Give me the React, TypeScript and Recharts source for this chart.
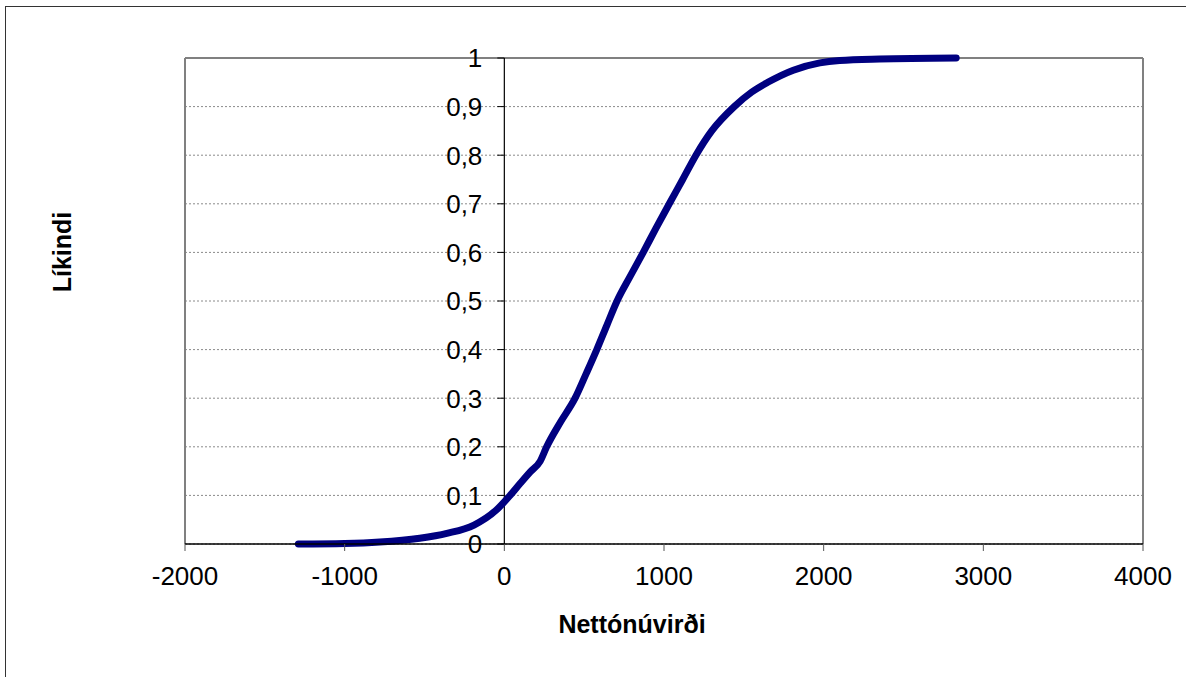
import { LineChart, Line, XAxis, YAxis, CartesianGrid, ReferenceLine } from 'recharts';

const netValues = [-1290, -1000, -780, -530, -360, -190, -50, 36, 100, 161, 224, 265, 350, 443, 512, 579, 642, 706, 787, 870, 950, 1033, 1117, 1200, 1299, 1440, 1550, 1650, 1810, 1976, 2100, 2350, 2830];
const probabilities = [0, 0.001, 0.004, 0.012, 0.022, 0.039, 0.07, 0.1, 0.125, 0.148, 0.17, 0.2, 0.25, 0.3, 0.35, 0.4, 0.45, 0.5, 0.55, 0.6, 0.65, 0.7, 0.75, 0.8, 0.85, 0.9, 0.93, 0.95, 0.975, 0.99, 0.995, 0.998, 1];
const xTicks = [-2000, -1000, 0, 1000, 2000, 3000, 4000];
const yTicks = [0, 0.1, 0.2, 0.3, 0.4, 0.5, 0.6, 0.7, 0.8, 0.9, 1];

const data = netValues.map((x, i) => ({ x, y: probabilities[i] }));

const W = 1186;
const H = 677;
const PLOT_LEFT = 185;
const PLOT_RIGHT = 1143;
const PLOT_TOP = 58;
const PLOT_BOTTOM = 544;
const X_AXIS_H = 60;
const X_MIN = -2000;
const X_MAX = 4000;
// y axis crosses at x = 0
const AXIS_X = PLOT_LEFT + (PLOT_RIGHT - PLOT_LEFT) * (0 - X_MIN) / (X_MAX - X_MIN);
const FONT = '"Liberation Sans", Arial, sans-serif';

function YTick(props: any) {
  const { y, payload } = props;
  const label = String(payload.value).replace('.', ',');
  return (
    <g>
      <line x1={AXIS_X - 7} x2={AXIS_X} y1={y} y2={y} stroke="#000" strokeWidth={1} />
      <text x={AXIS_X - 22} y={y} dy="0.36em" textAnchor="end" fontSize={26} fontFamily={FONT} fill="#000">
        {label}
      </text>
    </g>
  );
}

export default function App() {
  return (
    <div style={{ position: 'absolute', left: 0, top: 0, width: W, height: H, overflow: 'hidden', background: '#fff' }}>
      <div style={{ position: 'absolute', left: 5, top: 6, width: W + 20, height: H + 20, border: '1.5px solid #333', boxSizing: 'border-box' }} />
      <LineChart
        width={W}
        height={H}
        data={data}
        margin={{ top: PLOT_TOP, right: W - PLOT_RIGHT, bottom: H - PLOT_BOTTOM - X_AXIS_H, left: PLOT_LEFT - 1 }}
        style={{ position: 'absolute', left: 0, top: 0 }}
      >
        <CartesianGrid vertical={false} stroke="#8a8a8a" strokeDasharray="2 2" strokeWidth={1} />
        <ReferenceLine x={X_MIN} stroke="#808080" strokeWidth={2} />
        <ReferenceLine x={X_MAX} stroke="#808080" strokeWidth={2} />
        <ReferenceLine y={1} stroke="#808080" strokeWidth={2} />
        <ReferenceLine x={0} stroke="#000" strokeWidth={1.2} />
        <XAxis
          dataKey="x"
          type="number"
          domain={[X_MIN, X_MAX]}
          ticks={xTicks}
          allowDataOverflow
          height={X_AXIS_H}
          stroke="#000"
          strokeWidth={1.5}
          tickSize={7}
          tickMargin={16}
          tick={{ fontSize: 26, fill: '#000', fontFamily: FONT }}
          tickLine={{ stroke: '#555', strokeWidth: 1 }}
        />
        <YAxis
          type="number"
          domain={[0, 1]}
          ticks={yTicks}
          width={1}
          interval={0}
          axisLine={false}
          tickLine={false}
          tick={(p: any) => <YTick {...p} />}
        />
        <Line
          type="monotone"
          dataKey="y"
          stroke="#000080"
          strokeWidth={7}
          strokeLinecap="round"
          dot={false}
          isAnimationActive={false}
        />
      </LineChart>
      <div style={{ position: 'absolute', left: 532, top: 610, width: 200, textAlign: 'center', fontFamily: FONT, fontWeight: 'bold', fontSize: 25, lineHeight: '28px' }}>
        Nettónúvirði
      </div>
      <div style={{ position: 'absolute', left: 62, top: 252, width: 0, height: 0 }}>
        <div style={{ position: 'absolute', left: -100, top: -14, width: 200, textAlign: 'center', transform: 'rotate(-90deg)', fontFamily: FONT, fontWeight: 'bold', fontSize: 25, lineHeight: '28px' }}>
          Líkindi
        </div>
      </div>
    </div>
  );
}
